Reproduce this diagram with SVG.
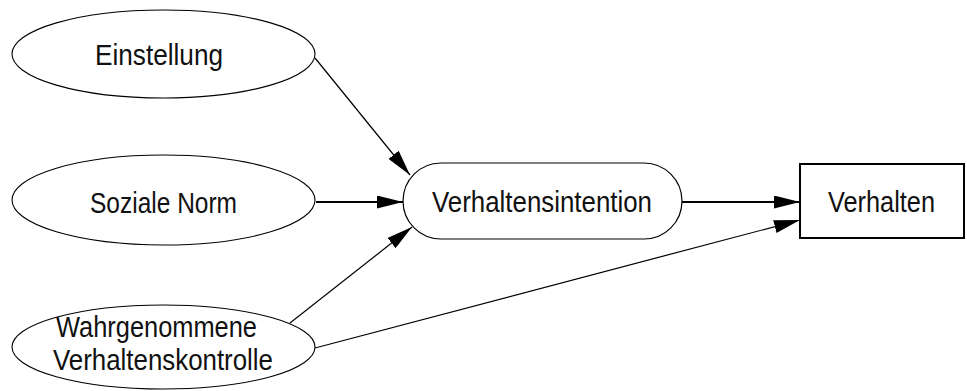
<svg xmlns="http://www.w3.org/2000/svg" width="967" height="391" viewBox="0 0 967 391">
  <style>
    .shape { fill: #fff; stroke: #000; }
    .ell { stroke-width: 1.1; }
    .label { font-family: "Liberation Sans Narrow", "Liberation Sans", Arial, sans-serif; font-size: 29px; fill: #111; }
    .edge { fill: none; stroke: #000; }
    .thin { stroke-width: 1.2; }
    .bold { stroke-width: 1.9; }
  </style>
  <defs>
    <marker id="arrow" markerUnits="userSpaceOnUse" markerWidth="26" markerHeight="13" refX="26" refY="6.5" orient="auto">
      <path d="M0,0 L26,6.5 L0,13 z" fill="#000"/>
    </marker>
  </defs>

  <rect width="967" height="391" fill="#fff"/>

  <g id="connectors">
    <line class="edge thin" x1="315" y1="58" x2="410" y2="175" marker-end="url(#arrow)"/>
    <line class="edge bold" x1="316" y1="202" x2="403" y2="202" marker-end="url(#arrow)"/>
    <line class="edge thin" x1="290" y1="323" x2="412" y2="227" marker-end="url(#arrow)"/>
    <line class="edge bold" x1="682" y1="202" x2="800" y2="202" marker-end="url(#arrow)"/>
    <line class="edge thin" x1="315" y1="348" x2="800" y2="220" marker-end="url(#arrow)"/>
  </g>

  <g id="einstellung">
    <ellipse class="shape ell" cx="163.5" cy="54" rx="151.5" ry="44"/>
    <text class="label" x="95" y="65" textLength="128" lengthAdjust="spacingAndGlyphs">Einstellung</text>
  </g>

  <g id="soziale-norm">
    <ellipse class="shape ell" cx="163.5" cy="200" rx="151.5" ry="45"/>
    <text class="label" x="90" y="213" textLength="147" lengthAdjust="spacingAndGlyphs">Soziale Norm</text>
  </g>

  <g id="wahrgenommene-verhaltenskontrolle">
    <ellipse class="shape ell" cx="163.5" cy="347" rx="151.5" ry="42"/>
    <text class="label" x="56" y="337" textLength="201" lengthAdjust="spacingAndGlyphs">Wahrgenommene</text>
    <text class="label" x="53" y="370" textLength="220" lengthAdjust="spacingAndGlyphs">Verhaltenskontrolle</text>
  </g>

  <g id="verhaltensintention">
    <rect class="shape" x="403" y="163" width="279" height="76" rx="38" ry="38" stroke-width="1.2"/>
    <text class="label" x="432" y="212" textLength="220" lengthAdjust="spacingAndGlyphs">Verhaltensintention</text>
  </g>

  <g id="verhalten">
    <rect class="shape" x="800" y="164" width="164" height="74" stroke-width="2"/>
    <text class="label" x="828" y="212" textLength="107" lengthAdjust="spacingAndGlyphs">Verhalten</text>
  </g>
</svg>
